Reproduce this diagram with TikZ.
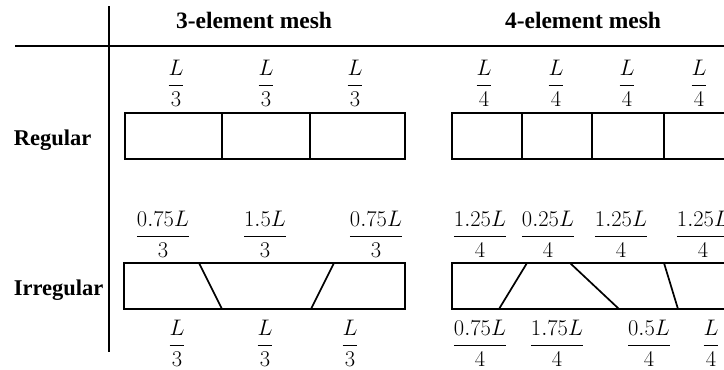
\RequirePackage{fix-cm}
\documentclass[tikz,border=0pt]{standalone}
\usepackage{amsmath}
\usepackage{fontspec}
\setmainfont{Liberation Serif}
\begin{document}
\begin{tikzpicture}[x=1pt, y=-1pt, line width=1.7pt,
	every node/.style={inner sep=0pt},
	head/.style={font=\fontsize{23.5}{27}\selectfont\bfseries, anchor=base},
	rowname/.style={font=\fontsize{22.5}{26}\selectfont\bfseries, anchor=base west},
	frac/.style={font=\fontsize{22.5}{26}\selectfont}]
\clip (0,0) rectangle (724,370);
% table lines
\draw (15,46) -- (724,46);
\draw (109,6) -- (109,352);
\node[head] (h3) at (254,28) {3-element mesh};
\node[head] (h4) at (583,28) {4-element mesh};
\node[rowname] (reg) at (13,145) {Regular};
\node[rowname] (irr) at (13,295) {Irregular};
% regular meshes
\draw (125,113) rectangle (405,159);
\foreach \x in {222,310} {
	\draw (\x,113) -- (\x,159);
}
\draw (452,113) rectangle (734,159);
\foreach \x in {522,592,664} {
	\draw (\x,113) -- (\x,159);
}
\foreach \x [count=\i] in {176,266,355} {
	\node[frac] (rt3\i) at (\x,83) {$\dfrac{L}{3}$};
}
\foreach \x [count=\i] in {484,556,627,699} {
	\node[frac] (rt4\i) at (\x,83) {$\dfrac{L}{4}$};
}
% irregular meshes
\draw (124,263) rectangle (405,309);
\foreach \a/\b in {199/222,334/311} {
	\draw (\a,263) -- (\b,309);
}
\draw (452,263) rectangle (734,309);
\foreach \a/\b in {527/499,570/619,664/678} {
	\draw (\a,263) -- (\b,309);
}
\foreach \x/\t [count=\i] in {163/0.75L,265/1.5L,376/0.75L} {
	\node[frac] (it3\i) at (\x,234) {$\dfrac{\t}{3}$};
}
\foreach \x/\t [count=\i] in {177/L,265/L,350/L} {
	\node[frac] (ib3\i) at (\x,343) {$\dfrac{\t}{3}$};
}
\foreach \x/\t [count=\i] in {480/1.25L,548/0.25L,621/1.25L,703/1.25L} {
	\node[frac] (it4\i) at (\x,234) {$\dfrac{\t}{4}$};
}
\foreach \x/\t [count=\i] in {480/0.75L,557/1.75L,649/0.5L,711/L} {
	\node[frac] (ib4\i) at (\x,343) {$\dfrac{\t}{4}$};
}
\end{tikzpicture}
\end{document}
